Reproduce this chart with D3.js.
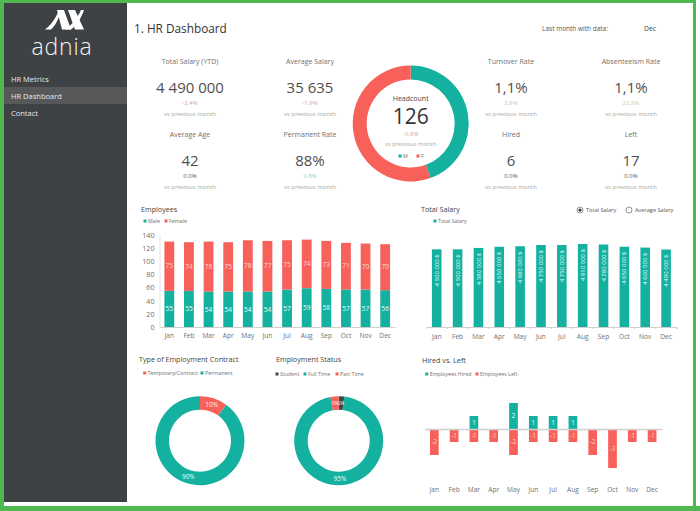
<!DOCTYPE html>
<html><head><meta charset="utf-8">
<script src="https://cdn.jsdelivr.net/npm/d3@7"></script>
<style>html,body{margin:0;padding:0;background:#fff}svg{display:block}text{font-family:"Open Sans",sans-serif}</style>
</head><body><svg id="c" width="700" height="511"></svg>
<script>
const months=["Jan","Feb","Mar","Apr","May","Jun","Jul","Aug","Sep","Oct","Nov","Dec"];
const male=[55,55,54,54,54,54,57,59,58,57,57,56];
const female=[75,74,76,75,78,77,75,74,73,71,70,70];
const totalSalary=[4500000,4500000,4580000,4650000,4680000,4750000,4750000,4810000,4780000,4650000,4600000,4490000];
const hired=[0,0,1,0,2,1,1,1,0,0,0,0];
const left=[-2,-1,-1,-1,-2,-1,-1,-1,-2,-3,-1,-1];
const headcount=[["M",56],["F",70]];
const contract=[["Temporary/Contract",10],["Permanent",90]];
const statusShare=[["Student",2],["Full Time",95],["Part Time",3]];
const navItems=["HR Metrics","HR Dashboard","Contact"];
const kpis=[
 ["Total Salary (YTD)","4 490 000","-2.4%","#d9a5a2"],["Average Salary","35 635","-1.9%","#d9a5a2"],
 ["Turnover Rate","1,1%","3.8%","#c9c5b8"],["Absenteeism Rate","1,1%","22.8%","#d8c9a8"],
 ["Average Age","42","0.0%","#555"],["Permanent Rate","88%","0.8%","#7fd4ca"],
 ["Hired","6","0.0%","#555"],["Left","17","0.0%","#555"]];
const kpiX=[190,310,511,631], kpiY=[62,135];
const TEAL="#14b1a1",RED="#f8605a",DARK="#3f4244",INK="#4f4f4f";
const svg=d3.select("#c");
function T(x,y,s,size,fill,anchor,weight){return svg.append("text").attr("x",x).attr("y",y).attr("dy",".35em").attr("font-size",size).attr("fill",fill||INK).attr("text-anchor",anchor||"start").attr("font-weight",weight||400).text(s);}
function R(x,y,w,h,f){return svg.append("rect").attr("x",x).attr("y",y).attr("width",w).attr("height",h).attr("fill",f);}

// frame + sidebar
R(0,0,4,511,"#4fb84f");R(0,0,696,3,"#4fb84f");R(693,0,3,511,"#4fb84f");R(0,506,700,5,"#4fb84f");
R(4,3,123,499,DARK);R(4,87,123,17,"#56585a");
const logo=svg.append("g").attr("fill","#fff");
["M45 29.5 C51 25 56 18 59 10 L61 10 C59 19 55 26 51 29.5 Z",
 "M57 10 L64 10 L71 29.5 L62 29.5 Z",
 "M68 10 L75 10 L84 29.5 L75 29.5 Z",
 "M65 29.5 C72 25 78 17 81 10 L84 10 C81 19 76 26 71 29.5 Z"].forEach(d=>logo.append("path").attr("d",d));
T(62,47,"adnia",23,"#f2f2f2","middle",300).attr("letter-spacing",.8);
navItems.forEach((n,i)=>T(11,79+17*i,n,7.5,"#e8e8e8"));

// header
T(134,29,"1. HR Dashboard",11.8,"#333");
T(575,29,"Last month with data:",6.5,"#555","middle");
T(650,29,"Dec",6.8,"#444","middle");

// KPIs
kpis.forEach((k,i)=>{const x=kpiX[i%4],y=kpiY[Math.floor(i/4)];
 T(x,y,k[0],7,"#707070","middle");
 T(x,y+26,k[1],15,INK,"middle");
 T(x,y+41,k[2],6,k[3],"middle");
 T(x,y+52,"vs previous month",6,"#a8a8a8","middle");
});

// donuts
function donut(cx,cy,ro,ri,rows,colors,labelled){
 const pie=d3.pie().sort(null).value(d=>d[1]);
 const arc=d3.arc().outerRadius(ro).innerRadius(ri);
 const g=svg.append("g").attr("transform",`translate(${cx},${cy})`);
 const a=pie(rows);
 g.selectAll("path").data(a).join("path").attr("d",arc).attr("fill",(d,i)=>colors[i]);
 if(labelled) g.selectAll("text").data(a).join("text").attr("transform",d=>`translate(${arc.centroid(d)})`)
   .attr("dy",".35em").attr("text-anchor","middle").attr("font-size",d=>d.data[1]<5?4.4:6.5).attr("fill","#eafffb").text(d=>d.data[1]+"%");
}
donut(410.7,123.5,58,44,headcount,[TEAL,RED],false);
T(410.7,99,"Headcount",7,"#444","middle");
T(410.7,117,"126",21,"#333","middle");
T(410.7,133.5,"-0,8%",6,"#d9a5a2","middle");
T(410.7,143.5,"vs previous month",6,"#a8a8a8","middle");
function legend(items,y){items.forEach(([x,c,s])=>{R(x-1.5,y-1.5,3,3,c);T(x+3,y,s,5.3,"#707070");});}
legend([[400,TEAL,"M"],[418,RED,"F"]],156);
donut(200,440.7,44.5,31,contract,[RED,TEAL],true);
donut(338.7,440.7,44.5,31,statusShare,["#444",TEAL,RED],true);

// titles + legends
T(141,209,"Employees",7.2,"#444");T(421,209,"Total Salary",7.2,"#444");
T(139,359,"Type of Employment Contract",7.2,"#444");T(276,359,"Employment Status",7.2,"#444");T(422,360,"Hired vs. Left",7.2,"#444");
legend([[145,TEAL,"Male"],[166,RED,"Female"]],221);
legend([[435,TEAL,"Total Salary"]],221);
legend([[144.7,RED,"Temporary/Contract"],[202,TEAL,"Permanent"]],373);
legend([[277,"#444","Student"],[305,TEAL,"Full Time"],[337,RED,"Part Time"]],374);
legend([[426.7,TEAL,"Employees Hired"],[477,RED,"Employees Left"]],374);

// radio
[[580,"Total Salary",true],[629,"Average Salary",false]].forEach(([x,s,on])=>{
 svg.append("circle").attr("cx",x).attr("cy",210).attr("r",3).attr("fill","#fff").attr("stroke","#666").attr("stroke-width",.7);
 if(on)svg.append("circle").attr("cx",x).attr("cy",210).attr("r",1.6).attr("fill","#333");
 T(x+6,210,s,5.6,"#555");
});

function styleAxis(g,size){g.selectAll("path,line").attr("stroke","#cfcfcf");g.selectAll("text").attr("font-size",size||6.6).attr("fill","#707070");}

// Employees
const x1=d3.scaleBand().domain(months).range([159.5,395]).paddingInner(.5).paddingOuter(.25);
const y1=d3.scaleLinear().domain([0,140]).range([327,235]);
const ga=svg.append("g").attr("transform","translate(0,327)").call(d3.axisBottom(x1).tickSize(0).tickPadding(6));styleAxis(ga);
const gy=svg.append("g").attr("transform","translate(159.5,0)").call(d3.axisLeft(y1).tickValues(d3.range(0,141,20)).tickSize(0).tickPadding(5));styleAxis(gy,7.2);
gy.select("path").attr("stroke","#e6e6e6");
months.forEach((m,i)=>{
 R(x1(m),y1(male[i]),x1.bandwidth(),y1(0)-y1(male[i]),TEAL);
 R(x1(m),y1(male[i]+female[i]),x1.bandwidth(),y1(male[i])-y1(male[i]+female[i]),RED);
 T(x1(m)+x1.bandwidth()/2,y1(male[i]/2),male[i],6.5,"#eafffb","middle");
 T(x1(m)+x1.bandwidth()/2,y1(male[i]+female[i]/2),female[i],6.5,"#ffd9d6","middle");
});

// Total salary
const x2=d3.scaleBand().domain(months).range([426.3,676.5]).paddingInner(.54).paddingOuter(.27);
const y2=d3.scaleLinear().domain([0,5000000]).range([327,240.7]);
const gb=svg.append("g").attr("transform","translate(0,327)").call(d3.axisBottom(x2).tickSize(2).tickPadding(5));styleAxis(gb);
gb.selectAll(".tick line").attr("transform",`translate(${x2.step()/2},0)`);
const fmt=v=>d3.format(",")(v).replace(/,/g," ")+" $";
months.forEach((m,i)=>{
 const cx=x2(m)+x2.bandwidth()/2;
 R(x2(m),y2(totalSalary[i]),x2.bandwidth(),y2(0)-y2(totalSalary[i]),TEAL);
 svg.append("text").attr("transform",`translate(${cx},${y2(totalSalary[i])+5}) rotate(-90)`).attr("dy",".35em").attr("text-anchor","end").attr("font-size",6).attr("fill","#eafffb").text(fmt(totalSalary[i]));
});

// Hired vs Left
const x3=d3.scaleBand().domain(months).range([424.4,662]).paddingInner(.56).paddingOuter(.28);
const y3=d3.scaleLinear().domain([-3,2]).range([468,403]);
months.forEach((m,i)=>{
 const cx=x3(m)+x3.bandwidth()/2;
 if(hired[i]){R(x3(m),y3(hired[i]),x3.bandwidth(),y3(0)-y3(hired[i]),TEAL);T(cx,y3(hired[i]/2),hired[i],6.2,"#eafffb","middle");}
 R(x3(m),y3(0),x3.bandwidth(),y3(left[i])-y3(0),RED);
 T(cx,y3(left[i]/2),left[i],6.2,"#ffd9d6","middle");
});
const gc=svg.append("g").attr("transform",`translate(0,${y3(0)})`).call(d3.axisBottom(x3).tickSize(0).tickPadding(58));styleAxis(gc);
gc.select("path").attr("stroke-width",1.4);
</script></body></html>
